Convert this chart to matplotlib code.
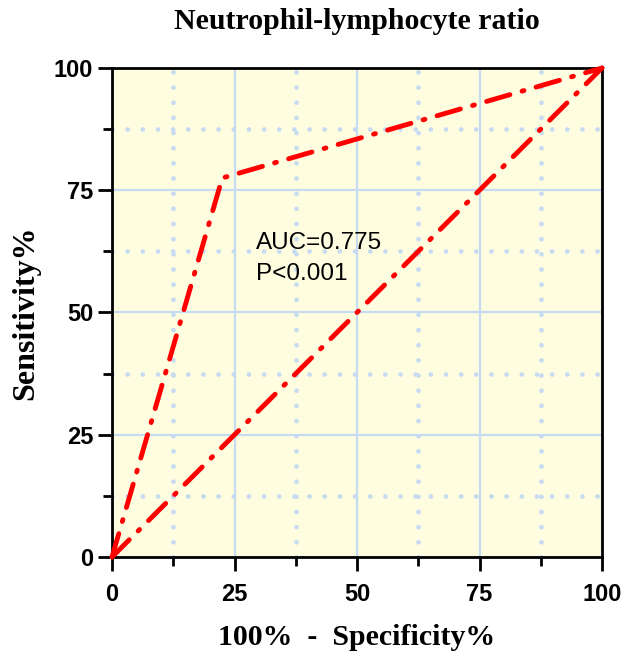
import matplotlib.pyplot as plt
from matplotlib.ticker import MultipleLocator

# ROC curve points (100% - specificity, sensitivity)
fpr = [0, 22.5, 100]
tpr = [0, 77.5, 100]
ref_x = [0, 100]
ref_y = [0, 100]
ticks = [0, 25, 50, 75, 100]
auc_text = "AUC=0.775\nP<0.001"

RED = "#ff0000"
GRID = "#c6daf2"
DASHDOT = (0, (5, 2.6, 0.4, 2.6))

fig = plt.figure(figsize=(6.23, 6.6), dpi=100)
ax = fig.add_axes([0.1798, 0.1561, 0.7865, 0.7409])
ax.set_facecolor("#fffde0")

ax.set_xlim(0, 100)
ax.set_ylim(0, 100)
ax.set_xticks(ticks)
ax.set_yticks(ticks)
ax.xaxis.set_minor_locator(MultipleLocator(12.5))
ax.yaxis.set_minor_locator(MultipleLocator(12.5))
ax.grid(which="major", color=GRID, lw=1.6, ls="-", zorder=0)
ax.grid(which="minor", color=GRID, lw=3.4, ls=(0, (0.01, 3.2)), dash_capstyle="round", zorder=0)
ax.set_axisbelow(True)

ax.plot(fpr, tpr, color=RED, lw=3.5, ls=DASHDOT, dash_capstyle="round",
        clip_on=False, zorder=3)
ax.plot(ref_x, ref_y, color=RED, lw=3.5, ls=DASHDOT, dash_capstyle="round",
        clip_on=False, zorder=3)

ax.text(29.3, 61, auc_text, fontsize=17.5, family="Liberation Sans", va="center",
        linespacing=1.5)

for s in ax.spines.values():
    s.set_linewidth(2)
ax.tick_params(which="major", direction="out", length=10, width=2, labelsize=17)
ax.tick_params(which="minor", direction="out", length=6.5, width=2)
ax.tick_params(axis="x", which="major", pad=8.5)
ax.tick_params(axis="y", which="major", pad=3.5)
for lab in ax.get_xticklabels() + ax.get_yticklabels():
    lab.set_fontfamily("Liberation Sans")
    lab.set_fontweight("bold")

serif = {"family": "Liberation Serif", "weight": "bold", "size": 21.5}
ax.set_title("Neutrophil-lymphocyte ratio", fontdict=serif, pad=28)
ax.set_xlabel("100%  -  Specificity%", fontdict=serif, labelpad=13)
ax.set_ylabel("Sensitivity%", fontdict={**serif, "size": 23}, labelpad=10)

fig.savefig("out.png", dpi=100)
